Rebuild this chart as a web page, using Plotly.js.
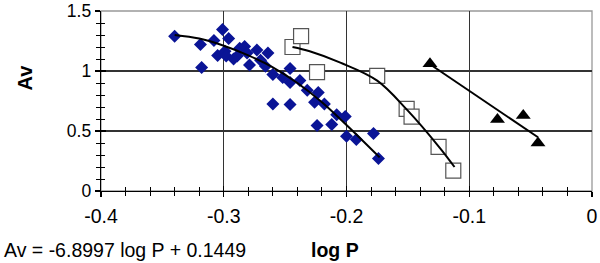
<!DOCTYPE html>
<html>
<head>
<meta charset="utf-8">
<script src="https://cdn.plot.ly/plotly-3.0.1.min.js"></script>
<style>html,body{margin:0;padding:0;background:#fff;}#chart{width:600px;height:263px;}</style>
</head>
<body>
<div id="chart"></div>
<script>
// Diamond series (log P, Av)
const diamondX = [-0.340,-0.319,-0.318,-0.301,-0.308,-0.296,-0.305,-0.299,-0.298,-0.287,-0.283,-0.289,-0.281,-0.273,-0.279,-0.270,-0.292,-0.266,-0.264,-0.260,-0.246,-0.246,-0.238,-0.252,-0.260,-0.246,-0.232,-0.223,-0.226,-0.218,-0.224,-0.212,-0.208,-0.201,-0.200,-0.192,-0.178,-0.174];
const diamondY = [1.29,1.22,1.03,1.345,1.255,1.27,1.13,1.165,1.125,1.19,1.205,1.125,1.15,1.175,1.05,1.09,1.10,1.04,1.15,0.97,1.02,0.905,0.92,0.945,0.725,0.72,0.84,0.82,0.74,0.725,0.545,0.555,0.635,0.62,0.456,0.43,0.48,0.27];
// Square series
const squareX = [-0.244,-0.237,-0.224,-0.175,-0.151,-0.147,-0.125,-0.113];
const squareY = [1.20,1.29,0.99,0.96,0.685,0.62,0.367,0.17];
// Triangle series
const triangleX = [-0.132,-0.077,-0.056,-0.044];
const triangleY = [1.06,0.595,0.63,0.40];
// Trend lines
const diamondTrendX = [-0.340,-0.32,-0.30,-0.28,-0.26,-0.24,-0.22,-0.20,-0.173];
const diamondTrendY = [1.30,1.27,1.21,1.13,1.03,0.90,0.74,0.55,0.28];
const squareTrendX = [-0.244,-0.23,-0.205,-0.175,-0.151,-0.124,-0.112];
const squareTrendY = [1.20,1.165,1.07,0.92,0.68,0.36,0.20];
const triangleTrendX = [-0.132,-0.044];
const triangleTrendY = [1.056,0.448];
// Tick labels
const xTickVals = [-0.4,-0.3,-0.2,-0.1,0];
const xTickText = ['-0.4','-0.3','-0.2','-0.1','0'];
const yTickVals = [0,0.5,1,1.5];
const yTickText = ['0','0.5','1','1.5'];
const equationText = 'Av = -6.8997 log P + 0.1449';
const xTitle = 'log P';
const yTitle = 'Av';

const FONT = 'Liberation Sans, Arial, sans-serif';
const traces = [
  {x: diamondX, y: diamondY, mode: 'markers', type: 'scatter',
   marker: {symbol: 'diamond', size: 10, color: '#0a1496', line: {width: 0}}},
  {x: squareX, y: squareY, mode: 'markers', type: 'scatter',
   marker: {symbol: 'square', size: 15, color: '#ffffff', line: {color: '#555555', width: 1.2}}},
  {x: triangleX, y: triangleY, mode: 'markers', type: 'scatter',
   marker: {symbol: 'triangle-up', size: 13, color: '#000000', line: {width: 0}}},
  {x: diamondTrendX, y: diamondTrendY, mode: 'lines', type: 'scatter',
   line: {color: '#000000', width: 2, shape: 'spline'}},
  {x: squareTrendX, y: squareTrendY, mode: 'lines', type: 'scatter',
   line: {color: '#000000', width: 2, shape: 'spline'}},
  // drawn on the overlay axes (same scale via "matches") so that their inner ticks are rendered
  {x: triangleTrendX, y: triangleTrendY, mode: 'lines', type: 'scatter', xaxis: 'x2', yaxis: 'y2',
   line: {color: '#000000', width: 2}}
];

const axisCommon = {
  showline: true, linecolor: '#000000', linewidth: 1.3,
  showgrid: true, gridcolor: '#333333', gridwidth: 1.3,
  zeroline: false, ticks: 'outside', ticklen: 5, tickwidth: 1.3, tickcolor: '#000000',
  ticklabeloverflow: 'allow'
};

const layout = {
  width: 600, height: 263,
  margin: {l: 101, r: 8, t: 11, b: 72, pad: 0},
  paper_bgcolor: '#ffffff', plot_bgcolor: '#ffffff',
  showlegend: false,
  font: {family: FONT, color: '#000000'},
  xaxis: Object.assign({}, axisCommon, {
    range: [-0.4, 0], tickmode: 'array', tickvals: xTickVals, ticktext: xTickText,
    ticklabelstandoff: 2,
    tickfont: {family: FONT, size: 19.5, color: '#000000'},
    minor: {tickmode: 'linear', dtick: 0.02, tick0: 0, ticks: 'outside', ticklen: 4, tickwidth: 1, tickcolor: '#000000', showgrid: false}
  }),
  yaxis: Object.assign({}, axisCommon, {
    range: [0, 1.5], tickmode: 'array', tickvals: yTickVals, ticktext: yTickText,
    tickfont: {family: FONT, size: 17.5, color: '#000000'},
    minor: {tickmode: 'linear', dtick: 0.1, tick0: 0, ticks: 'outside', ticklen: 4, tickwidth: 1, tickcolor: '#000000', showgrid: false}
  }),
  xaxis2: {overlaying: 'x', matches: 'x', showgrid: false, zeroline: false,
    showticklabels: false, showline: false, ticks: 'inside', ticklen: 5, tickwidth: 1.3, tickcolor: '#000000',
    tickmode: 'array', tickvals: xTickVals,
    minor: {tickmode: 'linear', dtick: 0.02, tick0: 0, ticks: 'inside', ticklen: 4, tickwidth: 1, tickcolor: '#000000', showgrid: false}},
  yaxis2: {overlaying: 'y', matches: 'y', showgrid: false, zeroline: false,
    showticklabels: false, showline: false, ticks: 'inside', ticklen: 5, tickwidth: 1.3, tickcolor: '#000000',
    tickmode: 'array', tickvals: yTickVals,
    minor: {tickmode: 'linear', dtick: 0.1, tick0: 0, ticks: 'inside', ticklen: 4, tickwidth: 1, tickcolor: '#000000', showgrid: false}},
  shapes: [
    {type: 'rect', xref: 'paper', yref: 'paper', x0: 0, x1: 1, y0: 0, y1: 1,
     line: {color: '#999999', width: 1.3}, layer: 'below'}
  ],
  annotations: [
    {text: yTitle, xref: 'paper', yref: 'paper', x: -0.155, y: 0.63, textangle: -90,
     xanchor: 'center', yanchor: 'middle',
     showarrow: false, font: {family: FONT, size: 20, color: '#000000', weight: 'bold'}},
    {text: xTitle, xref: 'paper', yref: 'paper', x: 0.4766, y: -0.325,
     xanchor: 'center', yanchor: 'middle',
     showarrow: false, font: {family: FONT, size: 19.5, color: '#000000', weight: 'bold'}},
    {text: equationText, xref: 'paper', yref: 'paper', x: -0.2016, y: -0.325, xanchor: 'left', yanchor: 'middle',
     showarrow: false, font: {family: FONT, size: 19.5, color: '#000000'}}
  ]
};

Plotly.newPlot('chart', traces, layout, {staticPlot: true, displayModeBar: false});
</script>
</body>
</html>
